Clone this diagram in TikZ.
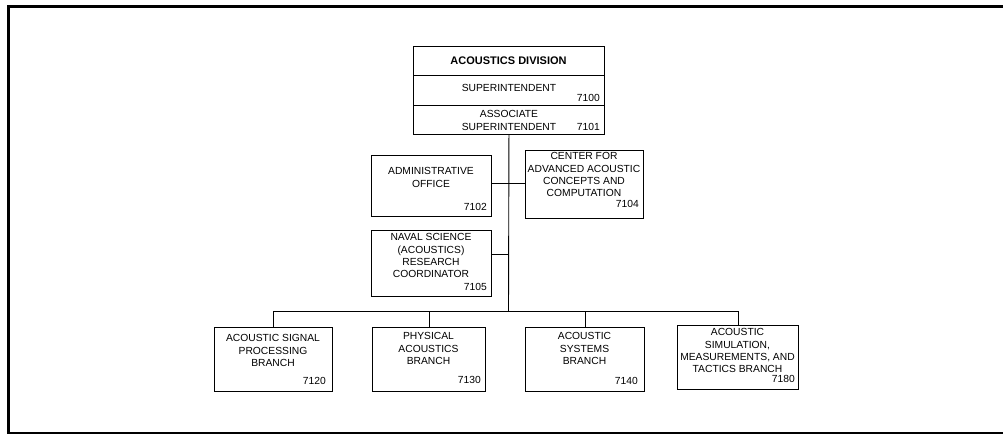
\documentclass[tikz,border=0pt]{standalone}
\usepackage{fontspec}
\setmainfont{Liberation Sans}
\usetikzlibrary{calc}
\begin{document}
\begin{tikzpicture}[x=1pt,y=-1pt,
  box/.style={draw,line width=0.9pt,inner sep=0pt,anchor=north west},
  lbl/.style={font=\fontsize{10.3}{12.2}\selectfont,align=center,inner sep=0pt,anchor=north},
  ttl/.style={font=\fontsize{11}{12}\selectfont\bfseries,inner sep=0pt},
  num/.style={font=\fontsize{10.3}{12}\selectfont,inner sep=0pt,anchor=base east},
  link/.style={draw,line width=0.9pt},
  frame/.style={draw,line width=2.2pt}]
\useasboundingbox (0,0) rectangle (1003,437);
\draw[frame] (1003,6.5) -- (8.5,6.5) -- (8.5,433) -- (1003,433);

% boxes
\node[box,minimum width=191pt,minimum height=88pt] (top) at (413,46) {};
\draw[link] (top.west |- 0,75) -- (top.east |- 0,75);
\draw[link] (top.west |- 0,105) -- (top.east |- 0,105);
\node[box,minimum width=120pt,minimum height=61pt] (admin) at (371,155) {};
\node[box,minimum width=118pt,minimum height=68pt] (center) at (525,150) {};
\node[box,minimum width=120pt,minimum height=66pt] (naval) at (371,230) {};
\node[box,minimum width=118pt,minimum height=64pt] (b1) at (214,327) {};
\node[box,minimum width=113pt,minimum height=64pt] (b2) at (372,327) {};
\node[box,minimum width=119pt,minimum height=64pt] (b3) at (525,327) {};
\node[box,minimum width=121pt,minimum height=64pt] (b4) at (677,325) {};

% connectors
\coordinate (c1) at (508.5,183);
\coordinate (c2) at (508.5,254);
\coordinate (bar) at (508.5,311);
\draw[link] (top.south) -- (bar);
\draw[link] (admin.east |- c1) -- (center.west |- c1);
\draw[link] (naval.east |- c2) -- (c2);
\draw[link] (b1.north) -- (b1.north |- bar) -- (b4.north |- bar) -- (b4.north);
\draw[link] (b2.north) -- (b2.north |- bar);
\draw[link] (b3.north) -- (b3.north |- bar);

% texts
\node[ttl] (t0) at (508.5,61) {ACOUSTICS DIVISION};
\node[lbl] (t1) at (509,84.5) {SUPERINTENDENT};
\node[num] (n1) at (600,101.5) {7100};
\node[lbl] (t2) at (509,110.5) {ASSOCIATE\\SUPERINTENDENT};
\node[num] (n2) at (600,130.5) {7101};

\node[lbl] (ta) at (431,167.5) {ADMINISTRATIVE\\OFFICE};
\node[num] (na) at (487,210.5) {7102};
\node[lbl] (tc) at (584,152.5) {CENTER FOR\\ADVANCED ACOUSTIC\\CONCEPTS AND\\COMPUTATION};
\node[num] (nc) at (639,207.5) {7104};
\node[lbl] (tn) at (431,233.5) {NAVAL SCIENCE\\(ACOUSTICS)\\RESEARCH\\COORDINATOR};
\node[num] (nn) at (487,290.5) {7105};

\node[lbl] (tb1) at (273,334.5) {ACOUSTIC SIGNAL\\PROCESSING\\BRANCH};
\node[num] (nb1) at (326,384.5) {7120};
\node[lbl] (tb2) at (428.5,332.5) {PHYSICAL\\ACOUSTICS\\BRANCH};
\node[num] (nb2) at (481,383.5) {7130};
\node[lbl] (tb3) at (584.5,332.5) {ACOUSTIC\\SYSTEMS\\BRANCH};
\node[num] (nb3) at (638,384.5) {7140};
\node[lbl] (tb4) at (737.5,328.5) {ACOUSTIC\\SIMULATION,\\MEASUREMENTS, AND\\TACTICS BRANCH};
\node[num] (nb4) at (795,382.5) {7180};
\end{tikzpicture}
\end{document}
